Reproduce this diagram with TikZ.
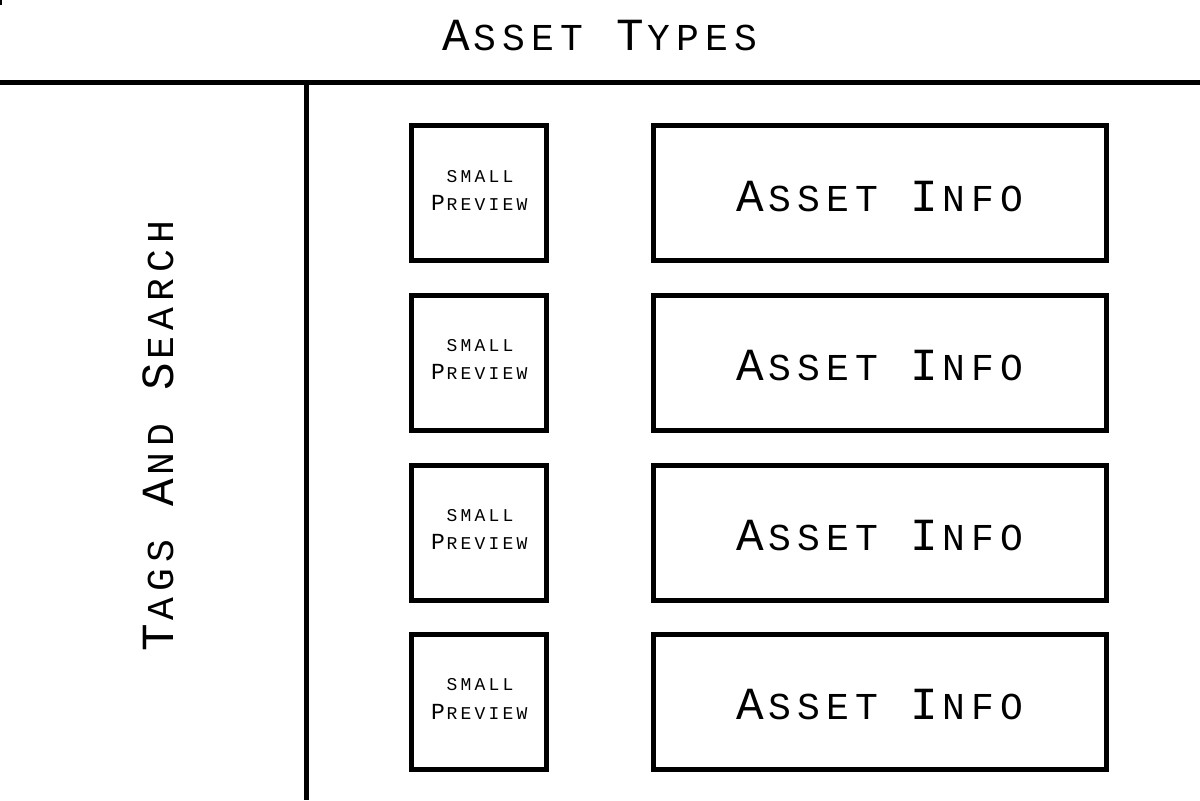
\documentclass[tikz,border=0pt]{standalone}
\usepackage{fontspec}
\newfontfamily\monofam{Liberation Mono}
\newlength\pitch
\newcommand\setfs[3]{\global\setlength\pitch{#1}\gdef\bsz{#2}\gdef\ssz{#3}}
\newcommand\Bc[1]{\makebox[\pitch]{\fontsize{\bsz}{\bsz}\selectfont #1}}
\newcommand\Sc[1]{\makebox[\pitch]{\fontsize{\ssz}{\ssz}\selectfont #1}}
\newcommand\Sp{\hspace*{\pitch}}
\tikzset{
  rule/.style={line width=2.5pt},
  boxstyle/.style={draw, line width=2.5pt, minimum height=67.5pt, inner sep=0pt},
  prevbox/.style={boxstyle, minimum width=67.5pt},
  infobox/.style={boxstyle, minimum width=226.6pt},
  bigtxt/.style={font={\monofam\setfs{14.5pt}{23pt}{19pt}}, inner sep=0pt},
  prevtxt/.style={font={\monofam\fontsize{12}{14.2}\selectfont\setfs{7pt}{11.5pt}{9pt}}, align=center, inner sep=0pt},
}
\begin{document}
\begin{tikzpicture}[x=0.5pt,y=-0.5pt]
\useasboundingbox (0,0) rectangle (1200,800);
\fill (0,0) rectangle (1.5,5);
% frame lines
\coordinate (hl) at (0,82.5);
\coordinate (hr) at (1200,82.5);
\coordinate (vt) at (306.5,82.5);
\coordinate (vb) at (306.5,800);
\draw[rule] (hl) -- (hr);
\draw[rule] (vt) -- (vb);
% titles
\node[bigtxt] (title) at (601,36) {\Bc{A}\Sc{S}\Sc{S}\Sc{E}\Sc{T}\Sp\Bc{T}\Sc{Y}\Sc{P}\Sc{E}\Sc{S}};
\node[bigtxt, rotate=90] (side) at (158,435) {\Bc{T}\Sc{A}\Sc{G}\Sc{S}\Sp\Bc{A}\Sc{N}\Sc{D}\Sp\Bc{S}\Sc{E}\Sc{A}\Sc{R}\Sc{C}\Sc{H}};
% rows
\foreach \i/\y in {1/193.3,2/362.7,3/532.5,4/702} {
  \node[prevbox] (p\i) at (479,\y) {};
  \node[prevtxt] (pt\i) at (480,\y-3) {\Sc{S}\Sc{M}\Sc{A}\Sc{L}\Sc{L}\\\Bc{P}\Sc{R}\Sc{E}\Sc{V}\Sc{I}\Sc{E}\Sc{W}};
  \node[infobox] (a\i) at (879.9,\y) {};
  \node[bigtxt] (at\i) at (881,\y+3) {\Bc{A}\Sc{S}\Sc{S}\Sc{E}\Sc{T}\Sp\Bc{I}\Sc{N}\Sc{F}\Sc{O}};
}
\end{tikzpicture}
\end{document}
